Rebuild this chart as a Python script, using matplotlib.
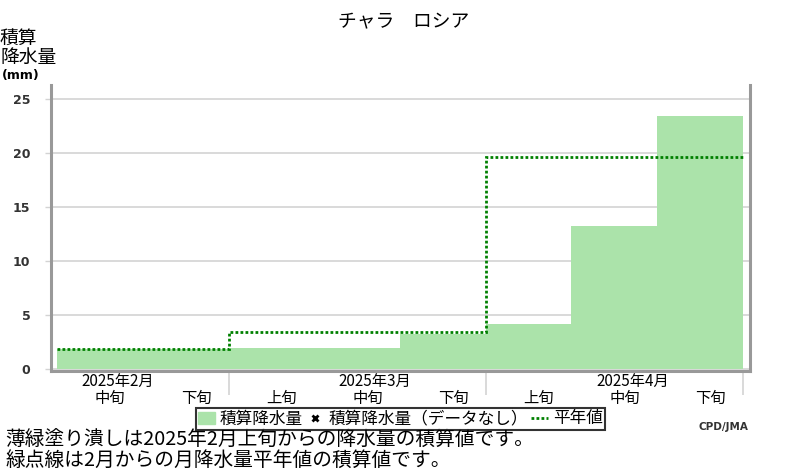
import matplotlib.pyplot as plt
from matplotlib.patches import Patch
from matplotlib.lines import Line2D
import numpy as np

plt.rcParams['font.family'] = ['Noto Sans CJK JP', 'DejaVu Sans']

# cumulative precipitation by dekad, from 2025 Feb (mid) to Apr (late)
dekad_labels = ['中旬', '下旬', '上旬', '中旬', '下旬', '上旬', '中旬', '下旬']
precip_cum = [1.9, 1.9, 2.0, 2.0, 3.3, 4.2, 13.3, 23.4]

# cumulative monthly normals (Feb, Mar, Apr)
month_labels = ['2025年2月', '2025年3月', '2025年4月']
month_edges = [-1, 2, 5, 8]
normal_cum = [1.85, 3.47, 19.6]

yticks = [0, 5, 10, 15, 20, 25]

fig = plt.figure(figsize=(8, 4.7), dpi=100)
ax = fig.add_axes([0.064, 0.2106, 0.874, 0.6085])

edges = np.arange(len(precip_cum) + 1)
ax.stairs(precip_cum, edges, fill=True, color='#abe3aa', linewidth=0, zorder=2)
ax.stairs(normal_cum, [0] + month_edges[1:], baseline=None, color='#008000',
          linestyle=(0, (1, 0.8)), linewidth=2, zorder=3)

ax.set_xlim(-0.068, 8.087)
ax.set_ylim(-0.15, 26.3)
ax.set_yticks(yticks)
ax.set_yticklabels([str(v) for v in yticks], family='DejaVu Sans',
                   fontweight='bold', fontsize=9, color='#333333')
ax.yaxis.grid(True, color='#d3d3d3', linewidth=1.2, zorder=0)
ax.set_axisbelow(True)
ax.tick_params(axis='y', length=4, width=1, color='#d3d3d3', pad=11)

ax.set_xticks(month_edges[1:])
ax.set_xticklabels([])
ax.tick_params(axis='x', length=17, width=1.2, color='#d3d3d3')

for s in ['left', 'right', 'bottom']:
    ax.spines[s].set_color('#999999')
    ax.spines[s].set_linewidth(2.2)
ax.spines['top'].set_visible(False)

xt = ax.get_xaxis_transform()
for i, lab in enumerate(month_labels):
    xc = (month_edges[i] + month_edges[i + 1]) / 2 + 0.21
    ax.text(xc, -0.035, lab, transform=xt, ha='center', va='center', fontsize=11)
for i, lab in enumerate(dekad_labels):
    ax.text(i + 0.62, -0.095, lab, transform=xt, ha='center', va='center', fontsize=11)

fig.text(404 / 800, 1 - 22 / 470, 'チャラ\u3000ロシア', ha='center', va='center', fontsize=13.5)
fig.text(0, 1 - 38 / 470, '積算', ha='left', va='center', fontsize=13.5)
fig.text(0, 1 - 57 / 470, '降水量', ha='left', va='center', fontsize=13.5)
fig.text(2 / 800, 1 - 76 / 470, '(mm)', ha='left', va='center', fontsize=9,
         family='DejaVu Sans', fontweight='bold')

handles = [Patch(color='#abe3aa'),
           Line2D([], [], linestyle='none', marker='x', color='black', markersize=5, mew=2),
           Line2D([], [], color='#008000', linestyle=(0, (1, 0.8)), linewidth=2)]
labels = ['積算降水量', '積算降水量（データなし）', '平年値']
leg = fig.legend(handles, labels, loc='center', bbox_to_anchor=(400.5 / 800, 1 - 419 / 470),
                 ncol=3, fontsize=12, frameon=True, fancybox=False, handlelength=1.0,
                 handletextpad=0.3, columnspacing=0.2, borderpad=0.15, borderaxespad=0)
leg.get_frame().set_edgecolor('black')
leg.get_frame().set_linewidth(1.5)

fig.text(748 / 800, 1 - 427 / 470, 'CPD/JMA', ha='right', va='center', fontsize=7.5,
         family='DejaVu Sans', fontweight='bold', color='#333333')

fig.text(5 / 800, 1 - 440 / 470, '薄緑塗り潰しは2025年2月上旬からの降水量の積算値です。',
         ha='left', va='center', fontsize=14.2)
fig.text(5 / 800, 1 - 460 / 470, '緑点線は2月からの月降水量平年値の積算値です。',
         ha='left', va='center', fontsize=14.2)

fig.savefig('out.png', dpi=100)
